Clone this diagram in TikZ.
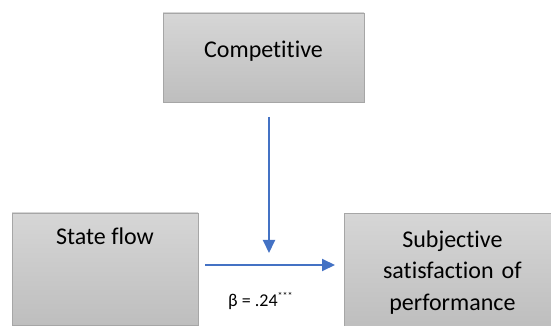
\documentclass[tikz,border=0pt]{standalone}
\usepackage{fontspec}
\setmainfont{Carlito}[Ligatures={NoCommon}]
\usetikzlibrary{arrows.meta,positioning}

\definecolor{boxline}{HTML}{A6A6A6}
\definecolor{boxtop}{HTML}{D6D6D6}
\definecolor{boxbottom}{HTML}{BEBEBE}
\definecolor{pathblue}{HTML}{4472C4}

\begin{document}
\begin{tikzpicture}[
  x=1pt, y=1pt,
  varbox/.style={
    draw=boxline,
    line width=0.8pt,
    top color=boxtop,
    bottom color=boxbottom,
    inner sep=0pt,
    font=\fontsize{24}{31.5}\selectfont,
  },
  patharrow/.style={
    draw=pathblue,
    line width=2pt,
    -{Triangle[length=13pt,width=12pt]},
  },
]
\useasboundingbox (0,0) rectangle (551,326);
\clip (0,0) rectangle (551,326);

% variables
\node[varbox, minimum width=201pt, text height=45pt, text depth=44pt]
  (comp) at (263.5,268.5) {Competitive};
\node[varbox, minimum width=186pt, text height=32pt, text depth=80pt]
  (flow) at (105,57) {State flow};
\node[varbox, text width=216pt, align=center, text height=34pt, text depth=80pt,
  anchor=north west] (satis) at (344,113)
  {Subjective\\ satisfaction of\\ performance};

% paths
\coordinate (vstart) at (269,209);
\coordinate (vend) at (269,73);
\coordinate (hstart) at (205,61);
\coordinate (hend) at (335,61);
\draw[patharrow] (vstart) -- (vend);
\draw[patharrow] (hstart) -- (hend);

\node[anchor=base west, inner sep=0pt, font=\fontsize{18}{21}\selectfont]
  (beta) at (228,19) {β = .24\raisebox{7pt}{\fontsize{10}{10}\selectfont***}};
\end{tikzpicture}
\end{document}
